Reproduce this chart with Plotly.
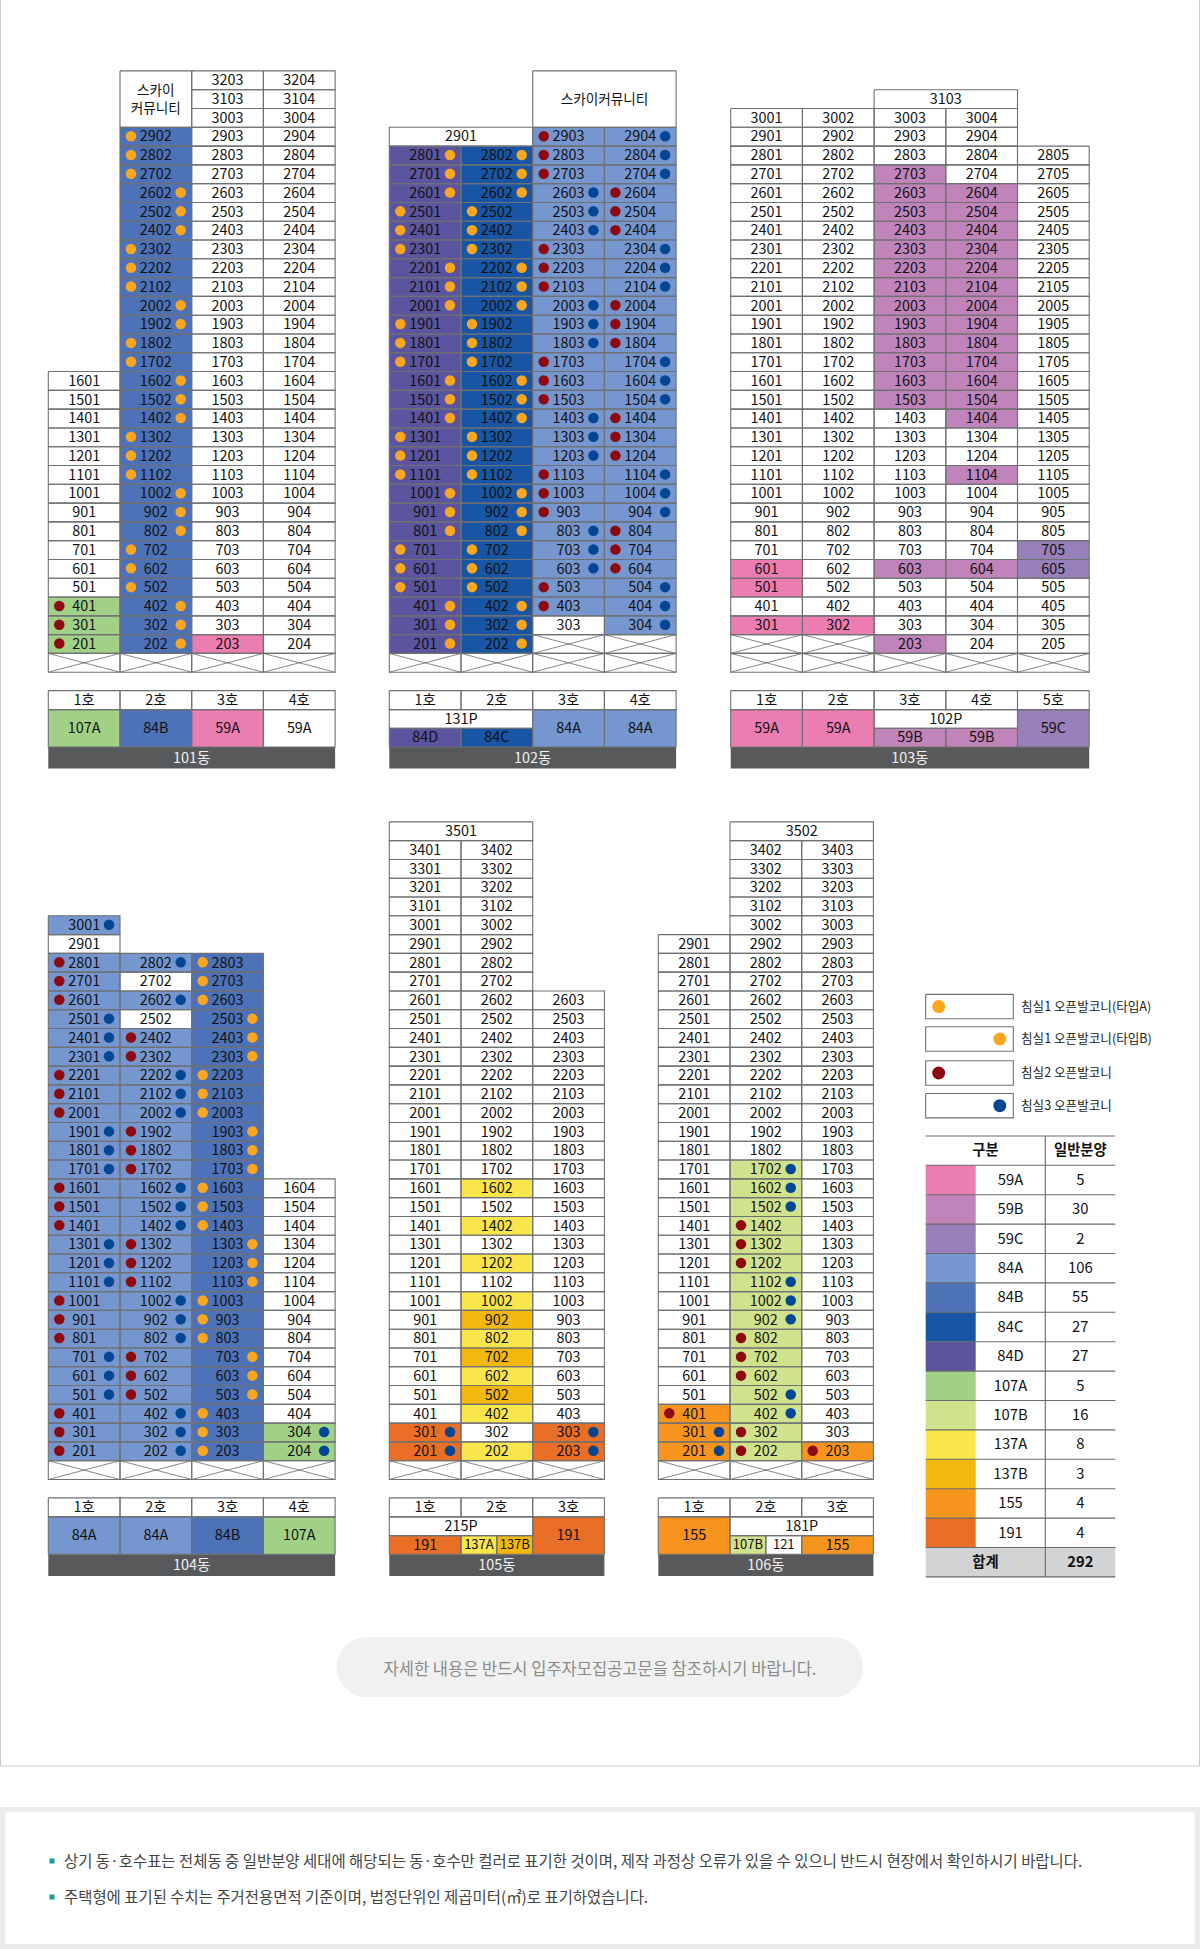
import plotly.graph_objects as go

# ---- unit type codes used in the column strings ----
# a 59A, b 59B, c 59C, d 84A, e 84B, f 84C, g 84D, h 107A, i 107B,
# j 137A, k 137B, l 155, m 191, . not for sale (white), x crossed out
AREA_TYPES = ["59A", "59B", "59C", "84A", "84B", "84C", "84D", "107A", "107B", "137A", "137B", "155", "191"]
AREA_COUNTS = [5, 30, 2, 106, 55, 27, 27, 5, 16, 8, 3, 4, 4]
AREA_CODES = "abcdefghijklm"
AREA_COLORS = ["#EC7DB0", "#C084BB", "#9880BA", "#7596CF", "#4E72B8", "#1856A5", "#5B549F",
               "#A0D186", "#D0E28C", "#F9E64B", "#F2B90C", "#F7941E", "#E86F25"]
COLOR_BY_TYPE = dict(zip(AREA_TYPES, AREA_COLORS))
COLOR_BY_CODE = dict(zip(AREA_CODES, AREA_COLORS))

# balcony dots: A orange left, B orange right, R red left, U blue right
DOT_COLORS = {"A": "#FBA61F", "B": "#FBA61F", "R": "#8C0A10", "U": "#034694"}

# every column starts at its top floor and runs down to floor 1
B101_TOPS = [16, 29, 32, 32]
B101_TYPES = ["." * 12 + "hhh" + "x", "e" * 28 + "x", "." * 30 + "a" + "x", "." * 31 + "x"]
B101_DOTS = ["." * 12 + "RRR", "AAABBBAAABBAABBBAAABBBAAABBB", "", ""]
B101_MERGED = [("스카이<br>커뮤니티", 1, 1, 32, 3)]
B101_PLANS = [("107A", "107A"), ("84B", "84B"), ("59A", "59A"), ("59A", None)]

B102_TOPS = [28, 28, 29, 29]
B102_TYPES = ["g" * 27 + "x", "f" * 27 + "x", "d" * 26 + "." + "xx", "d" * 27 + "xx"]
B102_DOTS = ["BBBAAABBBAAABBBAAABBBAAABBB", "BBBAAABBBAAABBBAAABBBAAABBB",
             "RRRUUURRRUUURRRUUURRRUUURR", "UUURRRUUURRRUUURRRUUURRRUUU"]
B102_MERGED = [("2901", 0, 2, 29, 1), ("스카이커뮤니티", 2, 2, 32, 3)]
B102_PLANS = [("131P", [("84D", "84D", 1), ("84C", "84C", 1)]), ("84A", "84A"), ("84A", "84A")]

B103_TOPS = [30, 30, 30, 30, 28]
B103_TYPES = ["." * 24 + "aa.a" + "xx", "." * 27 + "a" + "xx",
              "..." + "b" * 13 + "." * 8 + "b" + "..." + "b" + "x",
              "...." + "b" * 13 + ".." + "b" + "...." + "b" + "...." + "x",
              "." * 21 + "cc" + "...." + "x"]
B103_DOTS = ["", "", "", "", ""]
B103_MERGED = [("3103", 2, 2, 31, 1)]
B103_PLANS = [("59A", "59A"), ("59A", "59A"), ("102P", [("59B", "59B", 1), ("59B", "59B", 1)]), ("59C", "59C")]

B104_TOPS = [30, 28, 28, 16]
B104_TYPES = ["d." + "d" * 27 + "x", "d.d." + "d" * 23 + "x", "e" * 27 + "x", "." * 13 + "hh" + "x"]
B104_DOTS = ["U.RRRUUURRRUUURRRUUURRRUUURRR", "U.U.RRUUURRRUUURRRUUURRRUUU",
             "AAABBBAAABBBAAABBBAAABBBAAA", "." * 13 + "UU"]
B104_MERGED = []
B104_PLANS = [("84A", "84A"), ("84A", "84A"), ("84B", "84B"), ("107A", "107A")]

B105_TOPS = [34, 34, 26]
B105_TYPES = ["." * 31 + "mm" + "x", "." * 18 + "j.j.j.j" + "kjkjkj" + ".j" + "x", "." * 23 + "mm" + "x"]
B105_DOTS = ["." * 31 + "UU", "", "." * 23 + "UU"]
B105_MERGED = [("3501", 0, 2, 35, 1)]
B105_PLANS = [("215P", [("191", "191", 1), ("137A", "137A", 0.5), ("137B", "137B", 0.5)]), ("191", "191")]

B106_TOPS = [29, 34, 34]
B106_TYPES = ["." * 25 + "lll" + "x", "." * 17 + "i" * 16 + "x", "." * 32 + "l" + "x"]
B106_DOTS = ["." * 25 + "RUU", "." * 17 + "UUURRRUUURRRUURR", "." * 32 + "R"]
B106_MERGED = [("3502", 1, 2, 35, 1)]
B106_PLANS = [("155", "155"), ("181P", [("107B", "107B", 0.5), ("121", None, 0.5), ("155", "155", 1)])]

BUILDING_NAMES = ["101동", "102동", "103동", "104동", "105동", "106동"]
BUILDING_TOPS = [B101_TOPS, B102_TOPS, B103_TOPS, B104_TOPS, B105_TOPS, B106_TOPS]
BUILDING_TYPES = [B101_TYPES, B102_TYPES, B103_TYPES, B104_TYPES, B105_TYPES, B106_TYPES]
BUILDING_DOTS = [B101_DOTS, B102_DOTS, B103_DOTS, B104_DOTS, B105_DOTS, B106_DOTS]
BUILDING_MERGED = [B101_MERGED, B102_MERGED, B103_MERGED, B104_MERGED, B105_MERGED, B106_MERGED]
BUILDING_PLANS = [B101_PLANS, B102_PLANS, B103_PLANS, B104_PLANS, B105_PLANS, B106_PLANS]

LEGEND_LABELS = ["침실1 오픈발코니(타입A)", "침실1 오픈발코니(타입B)", "침실2 오픈발코니", "침실3 오픈발코니"]
LEGEND_DOTS = ["A", "B", "R", "U"]
TABLE_HEADERS = ["구분", "일반분양"]
TOTAL_LABEL = "합계"
TOTAL_COUNT = 292
PILL_TEXT = "자세한 내용은 반드시 입주자모집공고문을 참조하시기 바랍니다."
NOTES = ["상기 동·호수표는 전체동 중 일반분양 세대에 해당되는 동·호수만 컬러로 표기한 것이며, 제작 과정상 오류가 있을 수 있으니 반드시 현장에서 확인하시기 바랍니다.",
         "주택형에 표기된 수치는 주거전용면적 기준이며, 법정단위인 제곱미터(㎡)로 표기하였습니다."]

# ---- page geometry ----
WIDTH, HEIGHT = 1200, 1949
COL_W = 71.7
ROW_H = 18.79
BLOCK_X = [48.3, 389.3, 730.7, 48.3, 389.3, 658.3]
BLOCK_BOTTOM = [672.2, 672.2, 672.2, 1479.5, 1479.5, 1479.5]
PLAN_GAP = 18.4
HO_H, BODY_H, BAR_H = 19.0, 37.4, 21.6
FONT = "Noto Sans CJK KR"
GRID = "#6f7072"
INK = "#111111"
TEXT_DROP = 1.2  # the font sits a little high in its box

fills = {}
outline_x, outline_y = [], []
cross_x, cross_y = [], []
dots = {}
legend_dots = {}
texts = []


def add_rect(x0, y0, x1, y1, color=None):
    if color:
        xs, ys = fills.setdefault(color, ([], []))
        xs += [x0, x1, x1, x0, x0, None]
        ys += [y0, y0, y1, y1, y0, None]
    outline_x.extend([x0, x1, x1, x0, x0, None])
    outline_y.extend([y0, y0, y1, y1, y0, None])


def add_text(x, y, label, size=14.4, color=INK, pos="middle center"):
    texts.append((x, y + TEXT_DROP, label, size, color, pos))


def draw_tower(i):
    x0, bottom = BLOCK_X[i], BLOCK_BOTTOM[i]
    for c, (top, types) in enumerate(zip(BUILDING_TOPS[i], BUILDING_TYPES[i])):
        dot_codes = BUILDING_DOTS[i][c]
        left = x0 + c * COL_W
        for k, code in enumerate(types):
            floor = top - k
            y_top = bottom - floor * ROW_H
            if code == "x":
                add_rect(left, y_top, left + COL_W, y_top + ROW_H)
                cross_x.extend([left, left + COL_W, None, left, left + COL_W, None])
                cross_y.extend([y_top, y_top + ROW_H, None, y_top + ROW_H, y_top, None])
                continue
            add_rect(left, y_top, left + COL_W, y_top + ROW_H, COLOR_BY_CODE.get(code))
            add_text(left + COL_W / 2, y_top + ROW_H / 2, f"{floor}{c + 1:02d}")
            if k < len(dot_codes) and dot_codes[k] != ".":
                d = dot_codes[k]
                dx = 11 if d in "AR" else COL_W - 11
                xs, ys = dots.setdefault(DOT_COLORS[d], ([], []))
                xs.append(left + dx)
                ys.append(y_top + ROW_H / 2 - 0.5)
    for label, c, span, floor, n in BUILDING_MERGED[i]:
        left = x0 + c * COL_W
        y_top = bottom - floor * ROW_H
        add_rect(left, y_top, left + span * COL_W, y_top + n * ROW_H)
        size = 14.4 if n == 1 else 13.6
        add_text(left + span * COL_W / 2, y_top + n * ROW_H / 2, label, size)


def draw_plan(i):
    x0 = BLOCK_X[i]
    y0 = BLOCK_BOTTOM[i] + PLAN_GAP
    y1 = y0 + HO_H
    y2 = y1 + BODY_H
    col = 0
    for label, kind in BUILDING_PLANS[i]:
        left = x0 + col * COL_W
        if isinstance(kind, list):
            span = sum(p[2] for p in kind)
            add_rect(left, y1, left + span * COL_W, y1 + BODY_H / 2)
            add_text(left + span * COL_W / 2, y1 + BODY_H / 4, label)
            at = left
            for name, area, part in kind:
                w = part * COL_W
                add_rect(at, y1 + BODY_H / 2, at + w, y2, COLOR_BY_TYPE.get(area))
                add_text(at + w / 2, y1 + BODY_H * 0.75, name, 14.4 if part == 1 else 13)
                at += w
            col += span
        else:
            add_rect(left, y1, left + COL_W, y2, COLOR_BY_TYPE.get(kind))
            add_text(left + COL_W / 2, y1 + BODY_H / 2, label)
            col += 1
    n_cols = len(BUILDING_TOPS[i])
    for c in range(n_cols):
        left = x0 + c * COL_W
        add_rect(left, y0, left + COL_W, y1)
        add_text(left + COL_W / 2, y0 + HO_H / 2, f"{c + 1}호")
    right = x0 + n_cols * COL_W
    xs, ys = fills.setdefault("#58595B", ([], []))
    xs += [x0, right, right, x0, x0, None]
    ys += [y2, y2, y2 + BAR_H, y2 + BAR_H, y2, None]
    add_text((x0 + right) / 2, y2 + BAR_H / 2, BUILDING_NAMES[i], 14.4, "#F2F2F2")


for b in range(len(BUILDING_NAMES)):
    draw_tower(b)
    draw_plan(b)

# legend boxes on the right
LEG_L, LEG_R = 925.7, 1013.3
LEG_Y = [994.4, 1026.8, 1060.8, 1093.5]
LEG_H = 24.4
for y, label, d in zip(LEG_Y, LEGEND_LABELS, LEGEND_DOTS):
    add_rect(LEG_L, y, LEG_R, y + LEG_H)
    xs, ys = legend_dots.setdefault(DOT_COLORS[d], ([], []))
    xs.append(LEG_L + 13 if d in "AR" else LEG_R - 13.5)
    ys.append(y + LEG_H / 2)
    add_text(1021, y + LEG_H / 2, label, 12.6, "#222222", "middle right")

# area table
T_L, T_SW, T_SEP, T_R = 925.7, 975.7, 1045.3, 1115.3
T_TOP, T_HEAD, T_ROW = 1136.0, 29.3, 29.4
table_x, table_y = [], []
head_mid = T_TOP + T_HEAD / 2
add_text((T_L + T_SEP) / 2, head_mid, f"<b>{TABLE_HEADERS[0]}</b>", 14.3)
add_text((T_SEP + T_R) / 2, head_mid, f"<b>{TABLE_HEADERS[1]}</b>", 14.3)
for r, (name, count, color) in enumerate(zip(AREA_TYPES, AREA_COUNTS, AREA_COLORS)):
    y = T_TOP + T_HEAD + r * T_ROW
    xs, ys = fills.setdefault(color, ([], []))
    xs += [T_L, T_SW, T_SW, T_L, T_L, None]
    ys += [y, y, y + T_ROW, y + T_ROW, y, None]
    add_text((T_SW + T_SEP) / 2, y + T_ROW / 2, name, 14.8)
    add_text((T_SEP + T_R) / 2, y + T_ROW / 2, str(count), 14.8)
n_rows = len(AREA_TYPES)
y_total = T_TOP + T_HEAD + n_rows * T_ROW
xs, ys = fills.setdefault("#D1D3D4", ([], []))
xs += [T_L, T_R, T_R, T_L, T_L, None]
ys += [y_total, y_total, y_total + T_ROW, y_total + T_ROW, y_total, None]
add_text((T_L + T_SEP) / 2, y_total + T_ROW / 2, f"<b>{TOTAL_LABEL}</b>", 14.3)
add_text((T_SEP + T_R) / 2, y_total + T_ROW / 2, f"<b>{TOTAL_COUNT}</b>", 14.8)
table_x += [T_L, T_R, None]
table_y += [T_TOP, T_TOP, None]
for r in range(n_rows + 2):
    y = T_TOP + T_HEAD + r * T_ROW
    table_x += [T_L, T_R, None]
    table_y += [y, y, None]
table_x += [T_SEP, T_SEP, None]
table_y += [T_TOP, y_total + T_ROW, None]

add_text(600, 1670, PILL_TEXT, 16.5, "#8a8a8a")
NOTE_Y = [1861, 1897]
for y, note in zip(NOTE_Y, NOTES):
    add_text(64, y + 0.9, note, 15.45, "#444444", "middle right")

fig = go.Figure()
for color, (xs, ys) in fills.items():
    fig.add_trace(go.Scatter(x=xs, y=ys, mode="lines", line=dict(width=0), fill="toself",
                             fillcolor=color, hoverinfo="skip"))
fig.add_trace(go.Scatter(x=cross_x, y=cross_y, mode="lines", line=dict(color="#555555", width=0.7), hoverinfo="skip"))
fig.add_trace(go.Scatter(x=outline_x, y=outline_y, mode="lines", line=dict(color=GRID, width=1.1), hoverinfo="skip"))
fig.add_trace(go.Scatter(x=table_x, y=table_y, mode="lines", line=dict(color="#6a6a6a", width=1.1), hoverinfo="skip"))
for color, (xs, ys) in dots.items():
    fig.add_trace(go.Scatter(x=xs, y=ys, mode="markers", marker=dict(color=color, size=10.5), hoverinfo="skip"))
for color, (xs, ys) in legend_dots.items():
    fig.add_trace(go.Scatter(x=xs, y=ys, mode="markers", marker=dict(color=color, size=13), hoverinfo="skip"))
fig.add_trace(go.Scatter(x=[52, 52], y=NOTE_Y, mode="markers",
                         marker=dict(color="#1a9a9a", size=5, symbol="square"), hoverinfo="skip"))
fig.add_trace(go.Scatter(x=[t[0] for t in texts], y=[t[1] for t in texts], text=[t[2] for t in texts],
                         mode="text", textposition=[t[5] for t in texts],
                         textfont=dict(family=FONT, size=[t[3] for t in texts], color=[t[4] for t in texts]),
                         hoverinfo="skip"))

pill = ("M 366.7 1637 L 833 1637 C 850 1637 863 1650 863 1667 "
        "C 863 1684 850 1697 833 1697 L 366.7 1697 C 350 1697 336.7 1684 336.7 1667 "
        "C 336.7 1650 350 1637 366.7 1637 Z")
fig.update_layout(
    width=WIDTH, height=HEIGHT, margin=dict(l=0, r=0, t=0, b=0),
    showlegend=False, plot_bgcolor="white", paper_bgcolor="white",
    xaxis=dict(range=[0, WIDTH], visible=False, fixedrange=True),
    yaxis=dict(range=[HEIGHT, 0], visible=False, fixedrange=True),
    shapes=[
        dict(type="rect", x0=0.5, x1=1199.5, y0=-2, y1=1766, line=dict(color="#cccccc", width=1), layer="below"),
        dict(type="path", path=pill, fillcolor="#f1f1f1", line=dict(width=0), layer="below"),
        dict(type="rect", x0=0, x1=WIDTH, y0=1807, y1=HEIGHT, fillcolor="#ebebeb", line=dict(width=0), layer="below"),
        dict(type="rect", x0=5.4, x1=1194.6, y0=1811.7, y1=1944, fillcolor="white", line=dict(width=0), layer="below"),
    ],
)

fig.write_html("out.html", config={"displayModeBar": False},
               post_script="document.body.style.margin='0';document.body.style.overflow='hidden';")
